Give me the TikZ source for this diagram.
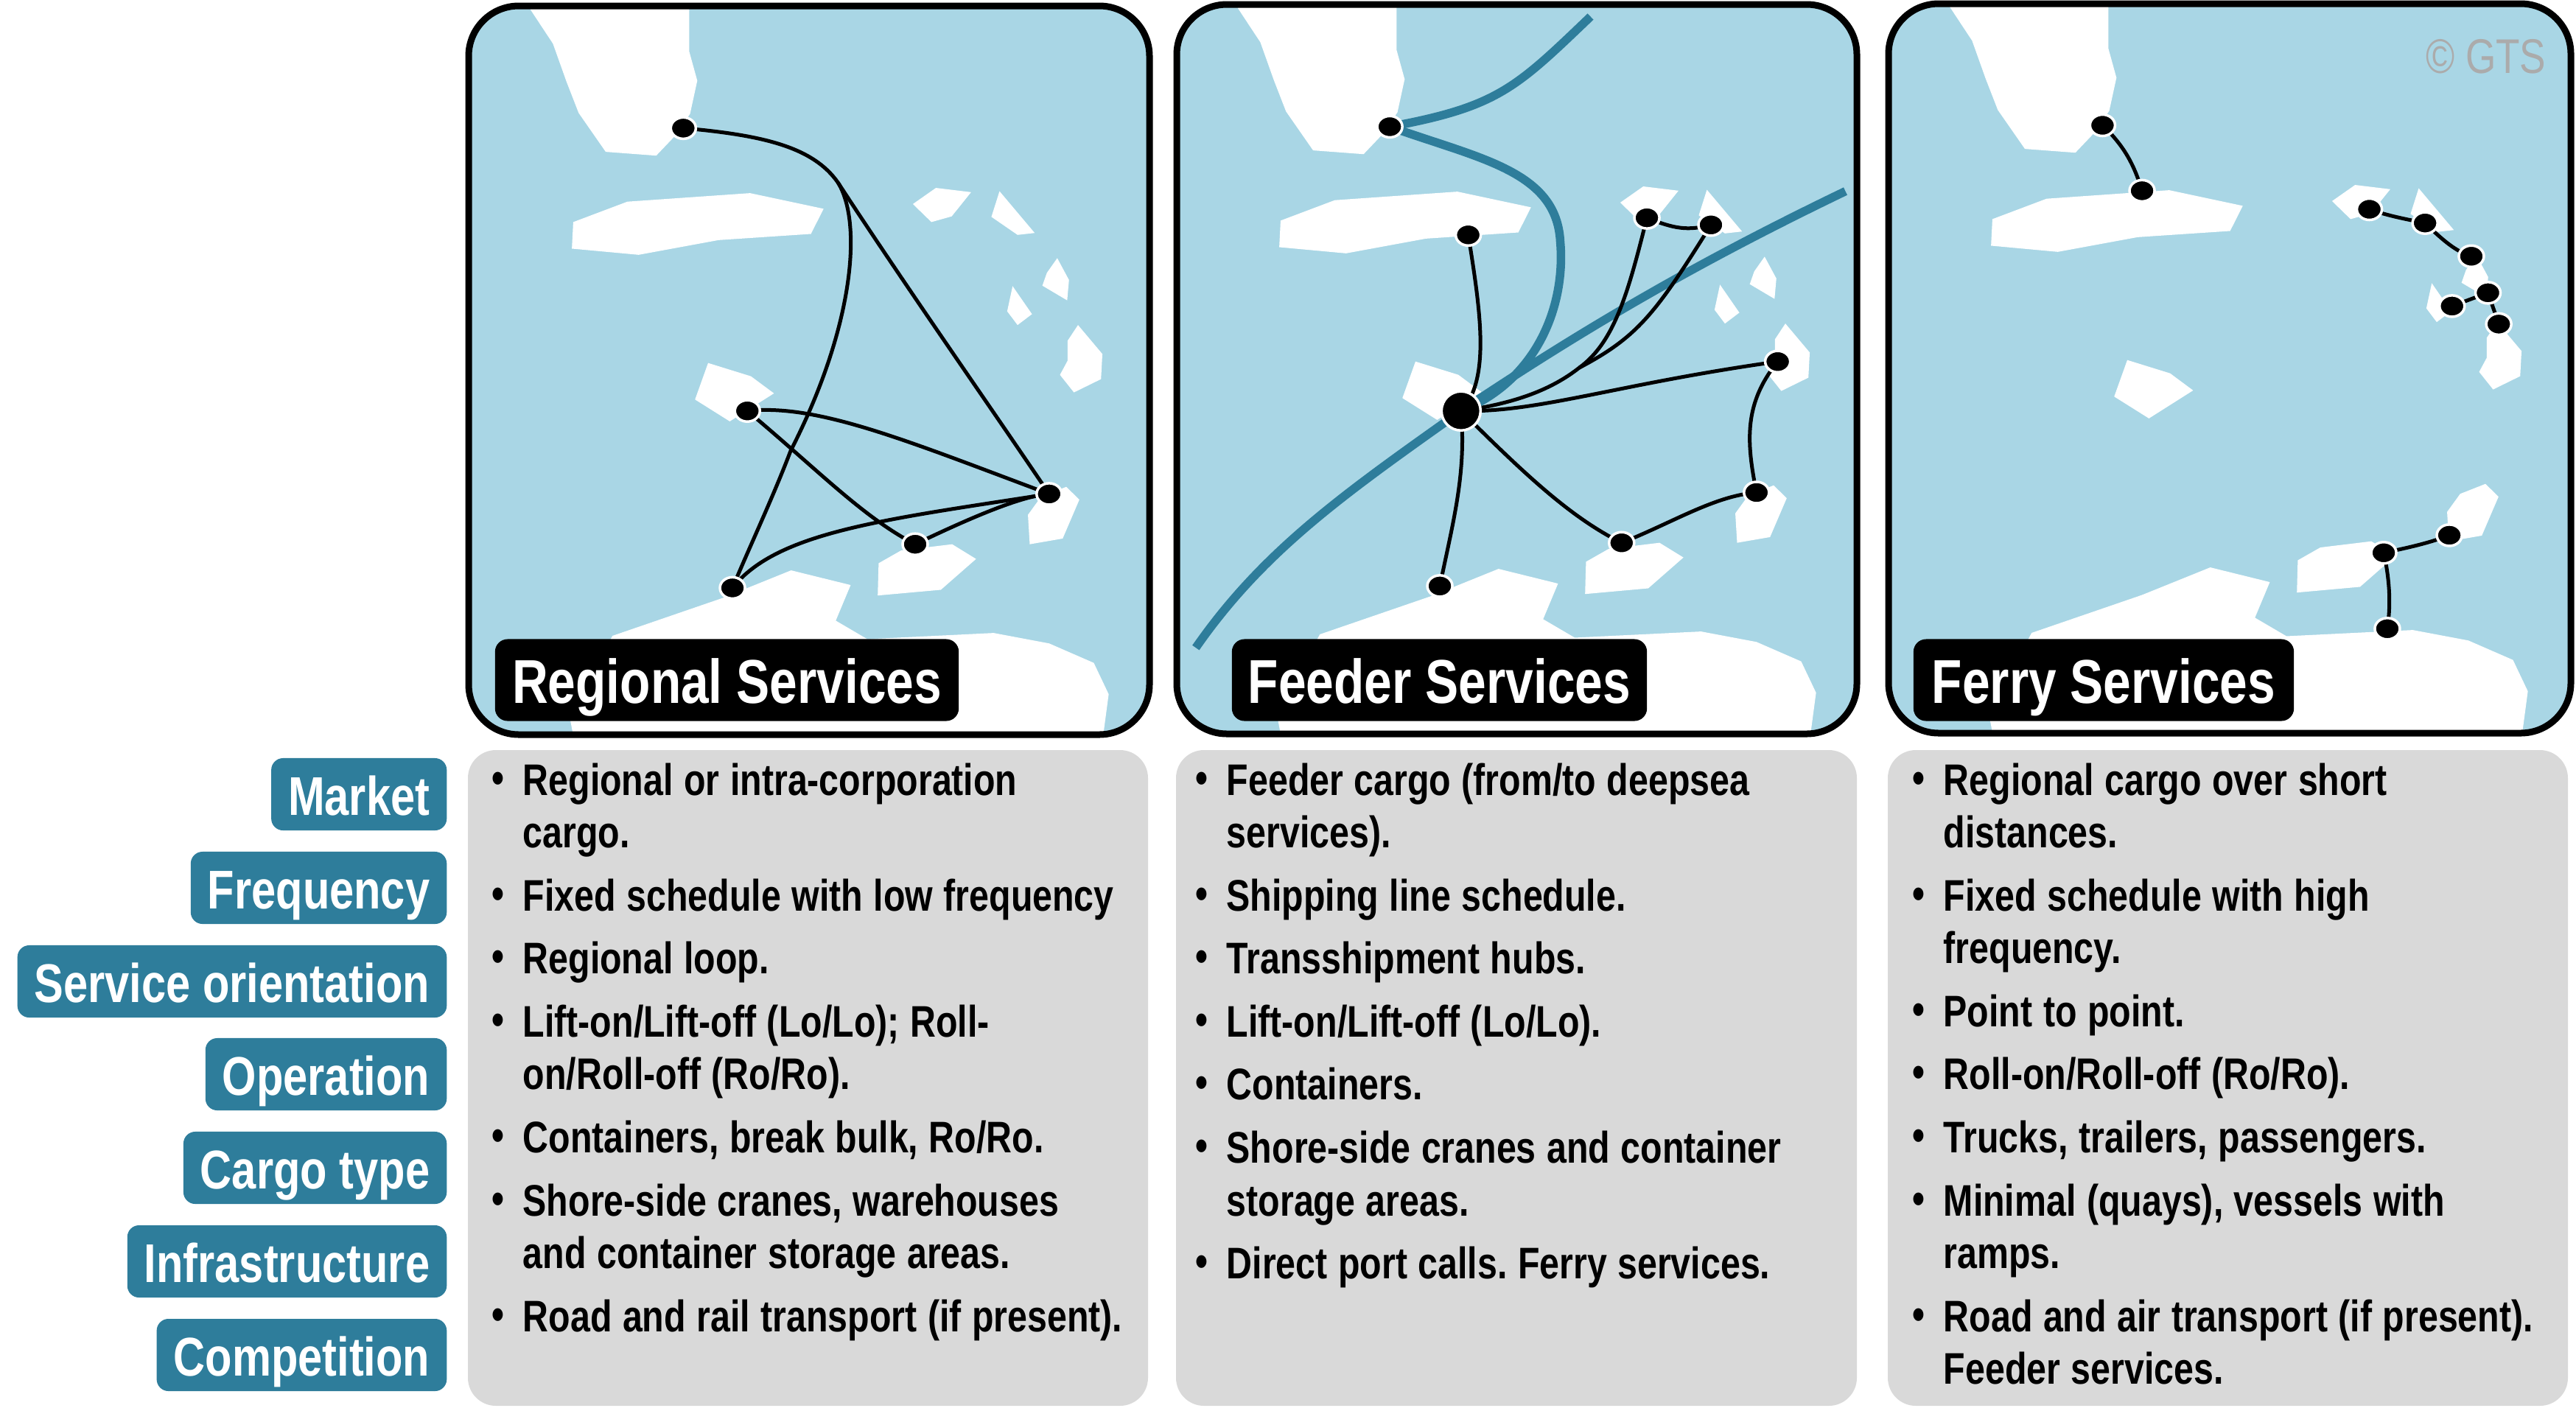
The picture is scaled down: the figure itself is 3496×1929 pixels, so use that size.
\documentclass[tikz,border=0pt]{standalone}
\usepackage{fontspec}
\setmainfont[FakeStretch=0.805]{Liberation Sans}
\usetikzlibrary{shapes.geometric}
\pgfdeclarelayer{base}\pgfdeclarelayer{lines}
\pgfsetlayers{base,lines,main}
\definecolor{water}{HTML}{A9D6E5}
\definecolor{teal2}{HTML}{2E7D9B}
\definecolor{greyp}{HTML}{D9D9D9}
\tikzset{
 land/.style={fill=white,draw=none},
 frame/.style={draw=black,line width=0.09cm,rounded corners=0.68cm},
 sea/.style={fill=water,rounded corners=0.68cm},
 port/.style={ellipse,fill=black,draw=white,line width=0.035cm,minimum width=0.34cm,minimum height=0.29cm,inner sep=0pt,outer sep=0pt},
 hub/.style={circle,fill=black,draw=white,line width=0.035cm,minimum size=0.53cm,inner sep=0pt,outer sep=0pt},
 route/.style={draw=black,line width=0.05cm},
 trunk/.style={draw=teal2,line width=0.115cm},
 titlebox/.style={fill=black,text=white,rounded corners=0.17cm,font=\fontsize{0.84cm}{0.95cm}\selectfont\bfseries,minimum height=1.11cm,inner sep=0pt,anchor=center,text height=0.68cm,text depth=0.06cm},
 tag/.style={fill=teal2,text=white,rounded corners=0.16cm,font=\fontsize{0.74cm}{0.9cm}\selectfont\bfseries,minimum height=0.98cm,inner xsep=0.23cm,inner ysep=0pt,anchor=east,text height=0.62cm,text depth=0.06cm},
 card/.style={fill=greyp,rounded corners=0.38cm},
 list/.style={anchor=north west,inner sep=0pt,text width=10cm,font=\fontsize{0.6cm}{0.715cm}\selectfont\bfseries,align=left},
}
\newcommand\mapshapes{%
 \fill[land] (163,0)--(163,20)--(213,92)--(243,172)--(270,238)--(330,320)--(442,328)--(480,290)--(517,240)--(533,170)--(515,108)--(515,0)--cycle;
 \fill[land] (258,468)--(378,425)--(650,407)--(813,440)--(785,493)--(580,506)--(403,537)--(255,524)--cycle;
 \fill[land] (1011,430)--(1062,396)--(1140,405)--(1097,456)--(1052,468)--cycle;
 \fill[land] (1203,403)--(1281,491)--(1243,495)--(1185,457)--cycle;
 \fill[land] (1331,544)--(1357,590)--(1353,633)--(1298,602)--(1308,575)--cycle;
 \fill[land] (1232,603)--(1275,662)--(1243,685)--(1220,656)--cycle;
 \fill[land] (1377,685)--(1431,746)--(1428,799)--(1368,827)--(1337,790)--(1354,760)--(1354,718)--cycle;
 \fill[land] (557,765)--(652,793)--(703,829)--(605,888)--(528,842)--cycle;
 \fill[land] (1295,1047)--(1351,1026)--(1380,1053)--(1343,1135)--(1270,1147)--(1266,1085)--cycle;
 \fill[land] (935,1187)--(985,1160)--(1098,1147)--(1151,1178)--(1073,1243)--(933,1255)--cycle;
 \fill[land] (345,1340)--(590,1260)--(741,1202)--(873,1233)--(840,1308)--(910,1347)--(1190,1334)--(1313,1356)--(1412,1397)--(1445,1463)--(1430,1570)--(262,1570)--(250,1510)--cycle;
}
\newcommand\panelback[6]{% x1 y1 x2 y2 mapshiftx mapshifty
 \begin{pgfonlayer}{base}
  \fill[sea] (#1,#2) rectangle (#3,#4);
  \begin{scope}
   \clip[rounded corners=0.68cm] (#1,#2) rectangle (#3,#4);
   \begin{scope}[shift={(#5,#6)},xscale=.6122,yscale=.644]\mapshapes\end{scope}
  \end{scope}
  \draw[frame] (#1,#2) rectangle (#3,#4);
 \end{pgfonlayer}
}
\newcommand\bitem[1]{\par\frenchspacing\spaceskip=0.145cm\relax\hangindent=0.42cm\hangafter=1\noindent\hbox to 0.42cm{\raisebox{0.03cm}{\textbullet}\hfil}#1\par\vspace{0.14cm}}
\begin{document}
\begin{tikzpicture}[x=0.01cm,y=-0.01cm]
\useasboundingbox (0,0) rectangle (3496,1929);

% ---------- Panel 1
\panelback{636}{8}{1560}{997}{620}{0}
\begin{scope}[shift={(620,0)},xscale=.6122,yscale=.644]
 \node[port] (r1) at (502,270) {};
 \node[port] (r2) at (644,866) {};
 \node[port] (r3) at (1313,1041) {};
 \node[port] (r4) at (1016,1147) {};
 \node[port] (r5) at (611,1239) {};
 \coordinate (rj) at (845,385);
 \begin{pgfonlayer}{lines}
  \draw[route] (r1.center) .. controls (680,285) and (790,310) .. (rj) .. controls (1000,610) and (1170,840) .. (r3.center);
  \draw[route] (rj) .. controls (900,470) and (880,690) .. (740,950) .. controls (700,1050) and (650,1150) .. (r5.center);
  \draw[route] (r2.center) .. controls (800,850) and (1000,930) .. (r3.center);
  \draw[route] (r2.center) .. controls (800,990) and (900,1090) .. (r4.center);
  \draw[route] (r5.center) .. controls (710,1120) and (950,1095) .. (r3.center);
  \draw[route] (r4.center) .. controls (1130,1095) and (1250,1045) .. (r3.center);
 \end{pgfonlayer}
\end{scope}
\node[titlebox,minimum width=6.29cm] (t1) at (986.5,923) {Regional Services};

% ---------- Panel 2
\panelback{1597}{6}{2520}{996}{1580}{-2}
\begin{scope}[shift={(1580,0)},xscale=.6122,yscale=.644]
 \node[hub] (f0) at (658,866) {};
 \node[port] (f1) at (500,267) {};
 \node[port] (f2) at (674,495) {};
 \node[port] (f3) at (1070,459) {};
 \node[port] (f4) at (1212,474) {};
 \node[port] (f5) at (1360,762) {};
 \node[port] (f6) at (1313,1038) {};
 \node[port] (f7) at (1014,1144) {};
 \node[port] (f8) at (611,1235) {};
 \coordinate (fa) at (945,35);
 \coordinate (fb) at (1510,403);
 \coordinate (fc) at (70,1365);
 \coordinate (fd) at (878,510);
 \coordinate (fe) at (920,775);
 \begin{pgfonlayer}{lines}
  \draw[trunk] (fa) .. controls (780,185) and (740,225) .. (f1.center);
  \draw[trunk] (f1.center) .. controls (700,335) and (870,360) .. (fd) .. controls (890,640) and (830,800) .. (f0.center);
  \draw[trunk] (fb) .. controls (1200,545) and (950,680) .. (f0.center) .. controls (400,1040) and (220,1160) .. (fc);
  \draw[route] (f0.center) .. controls (725,800) and (700,650) .. (f2.center);
  \draw[route] (f0.center) .. controls (780,850) and (860,820) .. (fe) .. controls (1000,720) and (1030,610) .. (f3.center);
  \draw[route] (fe) .. controls (1050,710) and (1090,660) .. (f4.center);
  \draw[route] (f0.center) .. controls (830,870) and (1000,810) .. (f5.center);
  \draw[route] (f5.center) .. controls (1285,850) and (1290,930) .. (f6.center);
  \draw[route] (f6.center) .. controls (1220,1045) and (1130,1100) .. (f7.center);
  \draw[route] (f0.center) .. controls (800,1000) and (900,1090) .. (f7.center);
  \draw[route] (f0.center) .. controls (670,1000) and (640,1100) .. (f8.center);
  \draw[route] (f3.center) .. controls (1130,482) and (1160,487) .. (f4.center);
 \end{pgfonlayer}
\end{scope}
\node[titlebox,minimum width=5.63cm] (t2) at (1953.5,923) {Feeder Services};

% ---------- Panel 3
\panelback{2563}{5}{3489}{995}{2546}{-4}
\begin{scope}[shift={(2540,0)},xscale=.6097,yscale=.644]
 \node[port] (s1) at (514,264) {};
 \node[port] (s2) at (602,402) {};
 \node[port] (s3) at (1108,441) {};
 \node[port] (s4) at (1232,470) {};
 \node[port] (s5) at (1335,540) {};
 \node[port] (s6) at (1372,617) {};
 \node[port] (s7) at (1292,645) {};
 \node[port] (s8) at (1396,683) {};
 \node[port] (s9) at (1286,1128) {};
 \node[port] (s10) at (1140,1165) {};
 \node[port] (s11) at (1148,1325) {};
 \begin{pgfonlayer}{lines}
  \draw[route] (s1.center) .. controls (565,310) and (585,350) .. (s2.center);
  \draw[route] (s3.center) .. controls (1150,455) and (1190,462) .. (s4.center);
  \draw[route] (s4.center) .. controls (1270,505) and (1300,530) .. (s5.center);
  \draw[route] (s6.center) -- (s7.center);
  \draw[route] (s6.center) -- (s8.center);
  \draw[route] (s9.center) .. controls (1240,1145) and (1190,1155) .. (s10.center);
  \draw[route] (s10.center) .. controls (1155,1230) and (1155,1280) .. (s11.center);
 \end{pgfonlayer}
\end{scope}
\node[titlebox,minimum width=5.16cm] (t3) at (2855,923) {Ferry Services};
\node[text=black!33,anchor=east,inner sep=0pt,font=\fontsize{0.66cm}{0.7cm}\selectfont] (gts) at (3456,77) {© GTS};

% ---------- Tags
\node[tag] (m1) at (607,1078) {Market};
\node[tag] (m2) at (607,1205) {Frequency};
\node[tag] (m3) at (607,1332) {Service orientation};
\node[tag] (m4) at (607,1458) {Operation};
\node[tag] (m5) at (607,1585) {Cargo type};
\node[tag] (m6) at (607,1712) {Infrastructure};
\node[tag] (m7) at (607,1839) {Competition};

% ---------- Cards
\fill[card] (635,1018) rectangle (1558,1908);
\fill[card] (1596,1018) rectangle (2520,1908);
\fill[card] (2562,1018) rectangle (3485,1908);

\node[list] (l1) at (667,1007) {%
\bitem{Regional or intra-corporation\newline cargo.}
\bitem{Fixed schedule with low frequency}
\bitem{Regional loop.}
\bitem{Lift-on/Lift-off (Lo/Lo); Roll-\newline on/Roll-off (Ro/Ro).}
\bitem{Containers, break bulk, Ro/Ro.}
\bitem{Shore-side cranes, warehouses\newline and container storage areas.}
\bitem{Road and rail transport (if present).}};
\node[list] (l2) at (1622,1007) {%
\bitem{Feeder cargo (from/to deepsea\newline services).}
\bitem{Shipping line schedule.}
\bitem{Transshipment hubs.}
\bitem{Lift-on/Lift-off (Lo/Lo).}
\bitem{Containers.}
\bitem{Shore-side cranes and container\newline storage areas.}
\bitem{Direct port calls. Ferry services.}};
\node[list] (l3) at (2595,1007) {%
\bitem{Regional cargo over short\newline distances.}
\bitem{Fixed schedule with high\newline frequency.}
\bitem{Point to point.}
\bitem{Roll-on/Roll-off (Ro/Ro).}
\bitem{Trucks, trailers, passengers.}
\bitem{Minimal (quays), vessels with\newline ramps.}
\bitem{Road and air transport (if present).\newline Feeder services.}};
\end{tikzpicture}
\end{document}
